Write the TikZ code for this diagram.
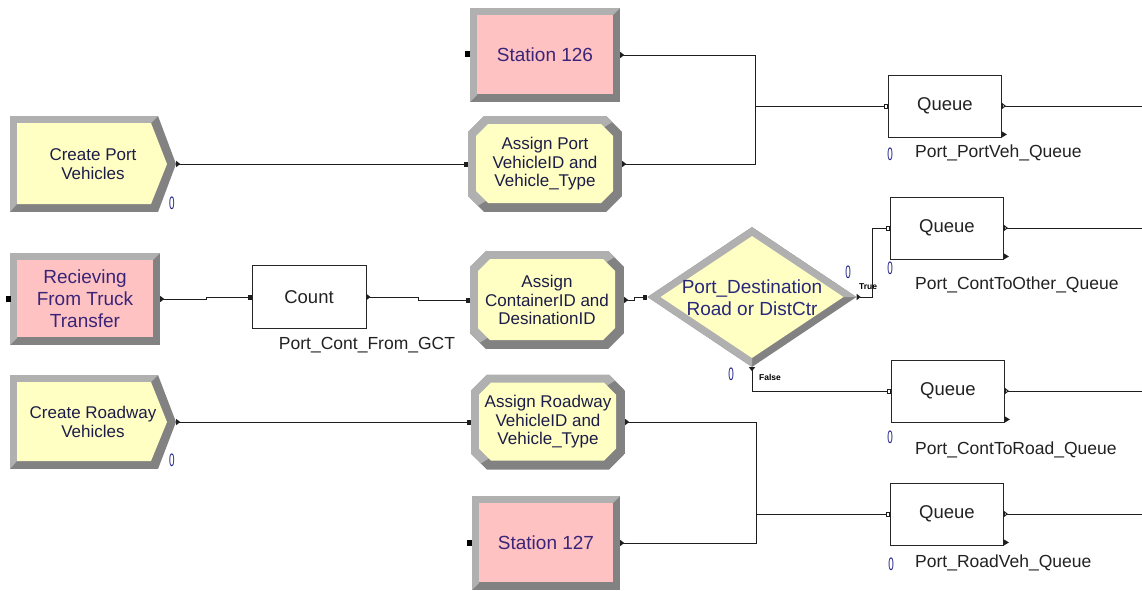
\documentclass[tikz,border=0pt]{standalone}
\usepackage{fontspec}
\usepackage{graphicx}
\setmainfont{Liberation Sans}
\usetikzlibrary{shapes.geometric,arrows.meta,calc}

\definecolor{modyellow}{RGB}{255,255,196}
\definecolor{modpink}{RGB}{255,194,194}
\definecolor{bevlight}{RGB}{176,176,176}
\definecolor{bevdark}{RGB}{130,130,130}
\definecolor{navytext}{RGB}{28,28,72}
\definecolor{stationtext}{RGB}{58,36,120}
\definecolor{decisiontext}{RGB}{40,40,125}
\definecolor{countblue}{RGB}{36,36,140}
\definecolor{wiregray}{RGB}{30,30,30}
\definecolor{labelgray}{RGB}{34,34,34}

\newcommand\zeroctr{\scalebox{0.55}[1]{0}}

\tikzset{
  % bevelled rectangle (station / receiving modules)
  stationshape/.style={rectangle, inner sep=0pt, fill=bevdark, align=center,
    minimum width=150pt, minimum height=94pt, text=stationtext,
    font=\fontsize{19}{22}\selectfont,
    path picture={
      \path (path picture bounding box.north west) coordinate (pbnw)
            (path picture bounding box.south east) coordinate (pbse);
      \fill[bevlight] let \p1=(pbnw), \p2=(pbse) in
        (\x1,\y1) -- (\x2,\y1) -- (\x2-7pt,\y1-7pt) -- (\x1+7pt,\y1-7pt)
        -- (\x1+7pt,\y2+7pt) -- (\x1,\y2) -- cycle;
      \fill[modpink] let \p1=(pbnw), \p2=(pbse) in
        (\x1+7pt,\y1-7pt) rectangle (\x2-7pt,\y2+8pt);
    }},
  % bevelled octagon (assign modules)
  assignshape/.style={rectangle, inner sep=0pt, align=center,
    minimum width=154pt, text=navytext, font=\fontsize{17}{18.5}\selectfont,
    path picture={
      \path (path picture bounding box.north west) coordinate (pbnw)
            (path picture bounding box.south east) coordinate (pbse);
      \begin{scope}
        \clip let \p1=(pbnw), \p2=(pbse) in
          (\x1+16pt,\y1) -- (\x2-16pt,\y1) -- (\x2,\y1-16pt) -- (\x2,\y2+16pt)
          -- (\x2-16pt,\y2) -- (\x1+16pt,\y2) -- (\x1,\y2+16pt) -- (\x1,\y1-16pt) -- cycle;
        \fill[bevdark] (pbnw) rectangle (pbse);
        \fill[bevlight] let \p1=(pbnw), \p2=(pbse) in
          (\x1,\y1) -- (\x2,\y1) -- (\x1,\y2) -- cycle;
      \end{scope}
      \fill[modyellow] let \p1=(pbnw), \p2=(pbse) in
        (\x1+20pt,\y1-8pt) -- (\x2-21pt,\y1-8pt) -- (\x2-9pt,\y1-20pt) -- (\x2-9pt,\y2+21pt)
        -- (\x2-21pt,\y2+9pt) -- (\x1+20pt,\y2+9pt) -- (\x1+8pt,\y2+21pt) -- (\x1+8pt,\y1-20pt) -- cycle;
    }},
  % bevelled pointed box (create modules)
  createshape/.style={rectangle, inner sep=0pt, align=center,
    minimum width=166pt, text=navytext, font=\fontsize{17}{19}\selectfont,
    path picture={
      \path (path picture bounding box.north west) coordinate (pbnw)
            (path picture bounding box.south east) coordinate (pbse);
      \begin{scope}
        \clip let \p1=(pbnw), \p2=(pbse), \p3=($(pbnw)!0.5!(pbse)$) in
          (\x1,\y1) -- (\x2-18pt,\y1) -- (\x2,\y3) -- (\x2-18pt,\y2) -- (\x1,\y2) -- cycle;
        \fill[bevdark] (pbnw) rectangle (pbse);
        \fill[bevlight] let \p1=(pbnw), \p2=(pbse) in
          (\x1,\y1) -- (\x2-18pt,\y1) -- (\x2-25pt,\y1-7pt) -- (\x1+7pt,\y1-7pt)
          -- (\x1+7pt,\y2+8pt) -- (\x1,\y2) -- cycle;
      \end{scope}
      \fill[modyellow] let \p1=(pbnw), \p2=(pbse), \p3=($(pbnw)!0.5!(pbse)$) in
        (\x1+7pt,\y1-7pt) -- (\x2-25pt,\y1-7pt) -- (\x2-9pt,\y3) -- (\x2-25pt,\y2+8pt)
        -- (\x1+7pt,\y2+8pt) -- cycle;
    }},
  % bevelled diamond (decide module)
  decisionshape/.style={diamond, inner sep=0pt, fill=bevdark,
    minimum width=209pt, minimum height=140pt,
    path picture={
      \path (path picture bounding box.north west) coordinate (pbnw)
            (path picture bounding box.south east) coordinate (pbse)
            (path picture bounding box.center) coordinate (pbc);
      \fill[bevlight] let \p1=(pbnw), \p2=(pbse), \p3=(pbc) in
        (\x1,\y3) -- (\x3,\y1) -- (\x2,\y3) -- (\x3,\y3) -- (\x3,\y2) -- cycle;
      \fill[modyellow] let \p1=(pbnw), \p2=(pbse), \p3=(pbc) in
        (\x1+13pt,\y3) -- (\x3,\y1-9pt) -- (\x2-13pt,\y3) -- (\x3,\y2+9pt) -- cycle;
    }},
  dectext/.style={align=center, text=decisiontext, font=\fontsize{19}{22}\selectfont, inner sep=0pt},
  plainbox/.style={rectangle, draw=black!85, line width=0.9pt, fill=white, inner sep=0pt,
    minimum width=113pt, minimum height=62pt, text=labelgray, font=\fontsize{18.5}{20}\selectfont},
  modlabel/.style={text=labelgray, font=\fontsize{17.5}{19}\selectfont, inner sep=0pt},
  counter/.style={text=countblue, font=\fontsize{18}{18}\selectfont, inner sep=0pt},
  branch/.style={text=black, font=\bfseries\fontsize{8.5}{9}\selectfont, inner sep=0pt},
  stubport/.style={rectangle, fill=black, minimum width=5pt, minimum height=6pt, inner sep=0pt},
  wire/.style={draw=wiregray, line width=1pt},
  wio/.style={wire, arrows={Triangle[reversed,length=4pt,width=6pt]-Square[length=4pt,width=5pt]}},
  wiq/.style={wire, arrows={Triangle[reversed,length=4pt,width=6pt]-Square[open,fill=white,length=4pt,width=5pt]}},
  wo/.style={wire, arrows={Triangle[reversed,length=4pt,width=6pt]-}},
  wqout/.style={wire, arrows={Triangle[reversed,open,fill=white,length=4pt,width=6pt]-}},
}

\begin{document}
\begin{tikzpicture}[x=1pt,y=-1pt]
\fill[white] (0,0) rectangle (1142,590);
\useasboundingbox (0,0) rectangle (1142,590);

% ---- modules ----
\node[createshape, minimum height=96pt] (crP) at (93,164) {Create Port\\Vehicles};
\node[createshape, minimum height=94pt] (crR) at (93,422) {Create Roadway\\Vehicles};

\node[stationshape, minimum height=92pt] (rcv) at (85,299) {Recieving\\From Truck\\Transfer};
\node[stationshape] (st126) at (545,55) {Station 126};
\node[stationshape, minimum width=148pt] (st127) at (546,543) {Station 127};

\node[assignshape, minimum height=96pt] (asgP) at (545,164) {Assign Port\\VehicleID and\\Vehicle\_Type};
\node[assignshape, minimum height=98pt] (asgC) at (547,300) {Assign\\ContainerID and\\DesinationID};
\node[assignshape, minimum height=95pt] (asgR) at (548,422) {Assign Roadway\\VehicleID and\\Vehicle\_Type};

\node[plainbox, minimum width=114pt, minimum height=63pt] (cnt) at (309,297) {Count};

\node[decisionshape] (dec) at (752,297) {};
\node[dectext] (decLbl) at (752,298) {Port\_Destination\\Road or DistCtr};

\node[plainbox] (q1) at (945,106) {Queue};
\node[plainbox] (q2) at (947,228) {Queue};
\node[plainbox] (q3) at (948,391) {Queue};
\node[plainbox] (q4) at (947,514) {Queue};

% ---- unconnected entry ports ----
\node[stubport] (rcvIn) at (8,299) {};
\node[stubport] (st126In) at (467,54) {};
\node[stubport] (st127In) at (469,543) {};

% ---- module names and counters ----
\node[modlabel] (cntLbl) at (367,345) {Port\_Cont\_From\_GCT};
\node[modlabel, anchor=west] (q1Lbl) at (915,153) {Port\_PortVeh\_Queue};
\node[modlabel, anchor=west] (q2Lbl) at (915,285) {Port\_ContToOther\_Queue};
\node[modlabel, anchor=west] (q3Lbl) at (915,450) {Port\_ContToRoad\_Queue};
\node[modlabel, anchor=west] (q4Lbl) at (915,563) {Port\_RoadVeh\_Queue};

\node[counter] (crPCtr) at (172,203) {\zeroctr};
\node[counter] (crRCtr) at (172,460) {\zeroctr};
\node[counter] (q1Ctr) at (890,154) {\zeroctr};
\node[counter] (q2Ctr) at (890,268) {\zeroctr};
\node[counter] (q3Ctr) at (890,437) {\zeroctr};
\node[counter] (q4Ctr) at (891,564) {\zeroctr};
\node[counter] (decTCtr) at (848,272) {\zeroctr};
\node[counter] (decFCtr) at (731,374) {\zeroctr};

\node[branch, anchor=west] (trueLbl) at (859,287) {True};
\node[branch, anchor=west] (falseLbl) at (759,377) {False};

% ---- bend points of merging routes ----
\coordinate (mergeP) at (755,106);
\coordinate (mergeR) at (756,514);
\coordinate (rimE) at (1142,0);

% ---- connectors ----
\draw[wio] (crP.east) -- (asgP.west);
\draw[wio] (crR.east) -- (asgR.west);
\draw[wio] (rcv.east) -- ++(46,0) |- (cnt.west);
\draw[wio] (cnt.east) -- ++(52,0) |- (asgC.west);
\draw[wio] (asgC.east) -- ++(10,0) |- (dec.west);
\draw[wiq] (dec.east) -- ++(16,0) |- (q2.west);
\draw[wiq] (dec.south) |- (q3.west);
\draw[wiq] (st126.east) -| (mergeP) -- (q1.west);
\draw[wo] (asgP.east) -| (mergeP);
\draw[wiq] (asgR.east) -| (mergeR) -- (q4.west);
\draw[wo] (st127.east) -| (mergeR);
\foreach \q in {q1,q2,q3,q4} {
  \draw[wqout] (\q.east) -- (\q.east -| rimE);
  \fill[wiregray] (\q.south east) -- ++(0pt,6pt) -- ++(5pt,-3pt) -- cycle;
}
\end{tikzpicture}
\end{document}
